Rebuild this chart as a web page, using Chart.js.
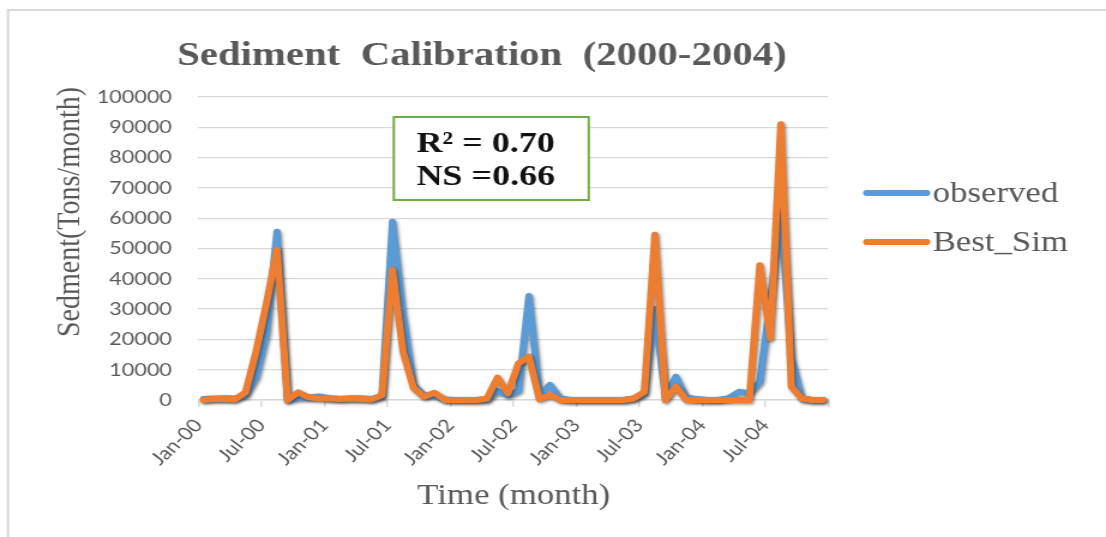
<!DOCTYPE html>
<html>
<head>
<meta charset="utf-8">
<script src="https://cdn.jsdelivr.net/npm/chart.js@4.4.1/dist/chart.umd.min.js"></script>
<style>
  html, body { margin: 0; padding: 0; background: #ffffff; overflow: hidden; }
  #chart { display: block; }
</style>
</head>
<body>
<!-- drawn on a narrower bitmap and widened to the page width -->
<canvas id="chart" width="922" height="537" style="width:1106px;height:537px"></canvas>
<script>
// Monthly categories, 2000-2004
const months = [
  'Jan-00','Feb-00','Mar-00','Apr-00','May-00','Jun-00','Jul-00','Aug-00','Sep-00','Oct-00','Nov-00','Dec-00',
  'Jan-01','Feb-01','Mar-01','Apr-01','May-01','Jun-01','Jul-01','Aug-01','Sep-01','Oct-01','Nov-01','Dec-01',
  'Jan-02','Feb-02','Mar-02','Apr-02','May-02','Jun-02','Jul-02','Aug-02','Sep-02','Oct-02','Nov-02','Dec-02',
  'Jan-03','Feb-03','Mar-03','Apr-03','May-03','Jun-03','Jul-03','Aug-03','Sep-03','Oct-03','Nov-03','Dec-03',
  'Jan-04','Feb-04','Mar-04','Apr-04','May-04','Jun-04','Jul-04','Aug-04','Sep-04','Oct-04','Nov-04','Dec-04'
];

// Sediment load, tons/month
const observed = [
  300, 500, 600, 500, 1500, 7500, 22000, 55500, 0, 600, 800, 1200,
  600, 300, 500, 600, 300, 1000, 58800, 28000, 5000, 1500, 1500, 200,
  0, 0, 0, 0, 3000, 1500, 3000, 34300, 1500, 5000, 500, 0,
  0, 0, 0, 0, 0, 500, 2000, 30000, 1000, 7700, 800, 300,
  0, 0, 600, 2700, 2200, 6000, 33000, 62000, 14000, 500, 0, 0
];
const bestSim = [
  0, 300, 300, 200, 2500, 16000, 32000, 49700, 0, 2500, 900, 500,
  500, 300, 500, 300, 200, 1600, 42900, 16000, 4000, 1100, 2400, 0,
  0, 0, 0, 500, 7400, 2200, 12100, 14300, 300, 1600, 0, 0,
  0, 0, 0, 0, 0, 500, 2700, 54500, 0, 4400, 0, 0,
  0, 0, 0, 0, 0, 44500, 20400, 91000, 4400, 500, 0, 0
];

// Axis labels (every six months on the time axis)
const tickLabels = ['Jan-00','Jul-00','Jan-01','Jul-01','Jan-02','Jul-02','Jan-03','Jul-03','Jan-04','Jul-04'];
const yMin = 0, yMax = 100000, yStep = 10000;

const seriesNames = ['observed', 'Best_Sim'];
const seriesColors = ['#5B9BD5', '#ED7D31'];
const statsLines = ['R\u00B2 = 0.70', 'NS =0.66'];
const chartTitle = 'Sediment  Calibration  (2000-2004)';
const yTitle = 'Sedment(Tons/month)';
const xTitle = 'Time (month)';

// each month sits in the middle of its one-month slot
const toPoints = vals => vals.map((v, i) => ({ x: i + 0.5, y: v, month: months[i] }));

const grey = '#595959';
const gridGrey = '#d9d9d9';

const lineShadow = {
  id: 'lineShadow',
  beforeDatasetDraw(chart) {
    const c = chart.ctx;
    c.save();
    c.shadowColor = 'rgba(0,0,0,0.45)';
    c.shadowBlur = 3;
    c.shadowOffsetX = 1.2;
    c.shadowOffsetY = 1.5;
  },
  afterDatasetDraw(chart) {
    chart.ctx.restore();
  }
};

const decorations = {
  id: 'decorations',
  beforeDraw(chart) {
    const c = chart.ctx;
    c.save();
    c.fillStyle = '#ffffff';
    c.fillRect(0, 0, chart.width, chart.height);
    // outer frame
    c.strokeStyle = gridGrey;
    c.lineWidth = 2;
    c.beginPath();
    c.moveTo(6.7, chart.height + 2);
    c.lineTo(6.7, 10);
    c.lineTo(chart.width + 2, 10);
    c.stroke();
    c.restore();
  },
  afterDraw(chart) {
    const c = chart.ctx;
    c.save();
    // title
    c.fillStyle = grey;
    c.font = 'bold 34px "Liberation Serif", "Times New Roman", serif';
    c.textAlign = 'center';
    c.textBaseline = 'alphabetic';
    c.fillText(chartTitle, 401.7, 65);

    // axis titles
    c.font = '29px "Liberation Serif", "Times New Roman", serif';
    c.textBaseline = 'middle';
    c.fillText(xTitle, 428.3, 496);
    c.save();
    c.translate(59, 212);
    c.rotate(-Math.PI / 2);
    c.font = '28px "Liberation Serif", "Times New Roman", serif';
    c.fillText(yTitle, 0, 0);
    c.restore();

    // legend
    const legendY = [193, 242];
    chart.data.datasets.forEach((ds, i) => {
      c.strokeStyle = ds.borderColor;
      c.lineWidth = 6;
      c.lineCap = 'round';
      c.beginPath();
      c.moveTo(722.5, legendY[i]);
      c.lineTo(772.5, legendY[i]);
      c.stroke();
      c.fillStyle = grey;
      c.font = '29px "Liberation Serif", "Times New Roman", serif';
      c.textAlign = 'left';
      c.textBaseline = 'middle';
      c.fillText(ds.label, 777.5, legendY[i] + 1);
    });

    // fit statistics box
    c.fillStyle = '#ffffff';
    c.fillRect(328.3, 117, 162.5, 83);
    c.strokeStyle = '#70AD47';
    c.lineWidth = 2;
    c.strokeRect(328.3, 117, 162.5, 83);
    c.fillStyle = '#111111';
    c.font = 'bold 30px "Liberation Serif", "Times New Roman", serif';
    c.textAlign = 'left';
    c.textBaseline = 'alphabetic';
    c.fillText(statsLines[0], 347.2, 152);
    c.fillText(statsLines[1], 347.2, 185);
    c.restore();
  }
};

new Chart(document.getElementById('chart'), {
  type: 'line',
  data: {
    datasets: [
      {
        label: seriesNames[0],
        data: toPoints(observed),
        borderColor: seriesColors[0],
        backgroundColor: seriesColors[0],
        borderWidth: 6,
        pointRadius: 0,
        tension: 0,
        borderJoinStyle: 'round',
        borderCapStyle: 'round',
        clip: false,
        order: 1
      },
      {
        label: seriesNames[1],
        data: toPoints(bestSim),
        borderColor: seriesColors[1],
        backgroundColor: seriesColors[1],
        borderWidth: 6,
        pointRadius: 0,
        tension: 0,
        borderJoinStyle: 'round',
        borderCapStyle: 'round',
        clip: false,
        order: 0
      }
    ]
  },
  options: {
    responsive: false,
    animation: false,
    devicePixelRatio: 1,
    layout: { padding: { top: 97, right: 231.7, bottom: 0, left: 0 } },
    plugins: {
      legend: { display: false },
      title: { display: false },
      tooltip: { enabled: false }
    },
    scales: {
      x: {
        type: 'linear',
        min: 0,
        max: months.length,
        afterFit(scale) { scale.height = 137; },
        afterBuildTicks(scale) {
          scale.ticks = [];
          for (let v = 0; v <= months.length; v += 6) scale.ticks.push({ value: v });
        },
        ticks: {
          autoSkip: false,
          minRotation: 48,
          maxRotation: 48,
          padding: 8,
          color: grey,
          font: { family: 'Lato, "Liberation Sans", sans-serif', size: 18 },
          callback: (value) => tickLabels[value / 6] || ''
        },
        grid: {
          drawOnChartArea: false,
          drawTicks: true,
          tickLength: 7,
          color: gridGrey,
          lineWidth: 1.5
        },
        border: { display: true, color: gridGrey, width: 1.5 }
      },
      y: {
        min: yMin,
        max: yMax,
        afterFit(scale) { scale.width = 165.3; },
        ticks: {
          stepSize: yStep,
          padding: 22,
          color: grey,
          font: { family: 'Lato, "Liberation Sans", sans-serif', size: 18 },
          callback: (value) => String(value)
        },
        grid: { color: gridGrey, lineWidth: 1.3, drawTicks: false },
        border: { display: false }
      }
    }
  },
  plugins: [lineShadow, decorations]
});
</script>
</body>
</html>
